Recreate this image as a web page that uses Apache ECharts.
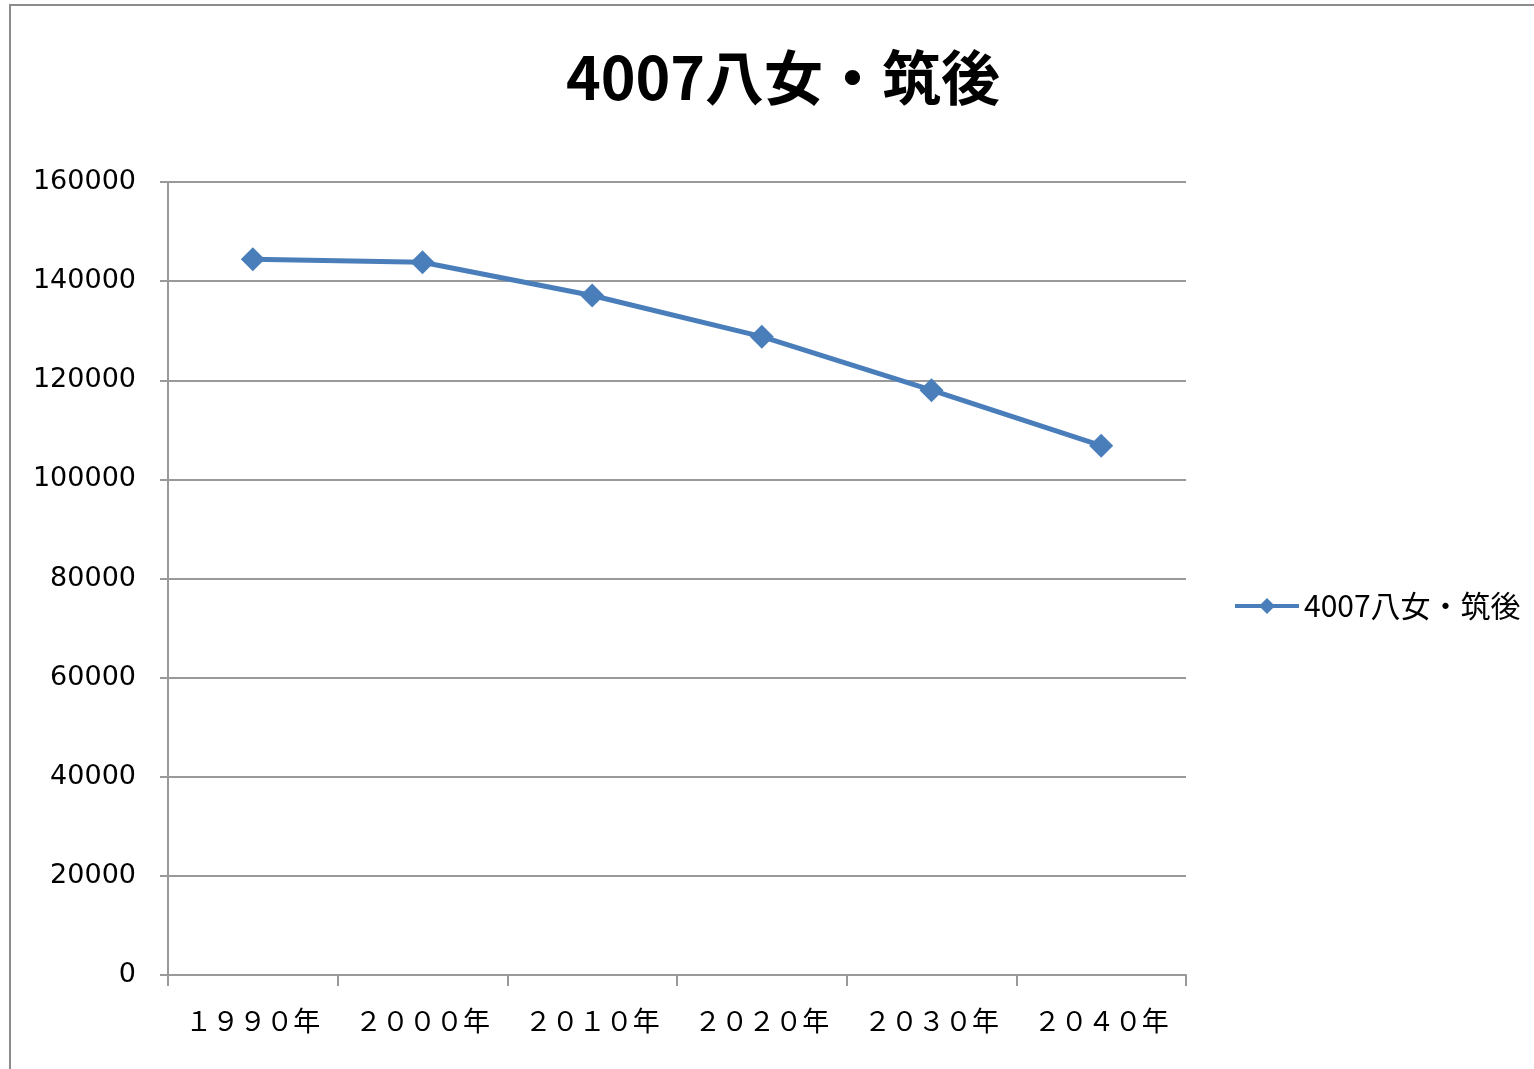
<!DOCTYPE html>
<html><head><meta charset="utf-8">
<script src="https://cdn.jsdelivr.net/npm/echarts@6/dist/echarts.min.js"></script>
<style>html,body{margin:0;padding:0;background:#fff}#c{width:1534px;height:1069px}</style>
</head><body><div id="c"></div>
<script>
const categories = ['１９９０年','２０００年','２０１０年','２０２０年','２０３０年','２０４０年'];
const seriesName = '4007八女・筑後';
const values = [144400, 143800, 137100, 128800, 118000, 106800];
const yTicks = [0, 20000, 40000, 60000, 80000, 100000, 120000, 140000, 160000];

const chart = echarts.init(document.getElementById('c'), null, {renderer:'canvas'});
chart.setOption({
  backgroundColor:'#fff',
  animation:false,
  graphic:[{type:'rect',shape:{x:10,y:5,width:1600,height:1200},style:{fill:'none',stroke:'#8c8c8c',lineWidth:2}}],
  title:{text:'4007八女・筑後',left:778,top:43,textAlign:'center',
    textStyle:{fontFamily:'Noto Sans CJK JP',fontWeight:'bold',fontSize:59,color:'#000'}},
  legend:{data:[seriesName],left:1228,top:586,itemWidth:64,itemHeight:20,itemGap:6,
    lineStyle:{width:4},
    textStyle:{fontFamily:'Noto Sans CJK JP',fontSize:30,color:'#000'}},
  grid:{left:168,right:348,top:182,bottom:94,containLabel:false},
  xAxis:{type:'category',data:categories,boundaryGap:true,
    axisLine:{lineStyle:{color:'#999',width:2}},
    axisTick:{show:true,interval:0,length:11,lineStyle:{color:'#999',width:2}},
    axisLabel:{interval:0,margin:32,fontFamily:'Noto Sans CJK JP',fontSize:27,color:'#000'}},
  yAxis:{type:'value',min:yTicks[0],max:yTicks[yTicks.length-1],interval:20000,
    axisLine:{show:true,lineStyle:{color:'#999',width:2}},
    axisTick:{show:true,length:8,lineStyle:{color:'#999',width:2}},
    splitLine:{lineStyle:{color:'#999',width:2}},
    axisLabel:{margin:32,fontFamily:'DejaVu Sans',fontSize:27,color:'#000',formatter:v=>String(v)}},
  series:[{name:seriesName,type:'line',data:values,symbol:'diamond',symbolSize:24,
    lineStyle:{color:'#4a7ebb',width:5},itemStyle:{color:'#4a7ebb'}}]
});
</script></body></html>
